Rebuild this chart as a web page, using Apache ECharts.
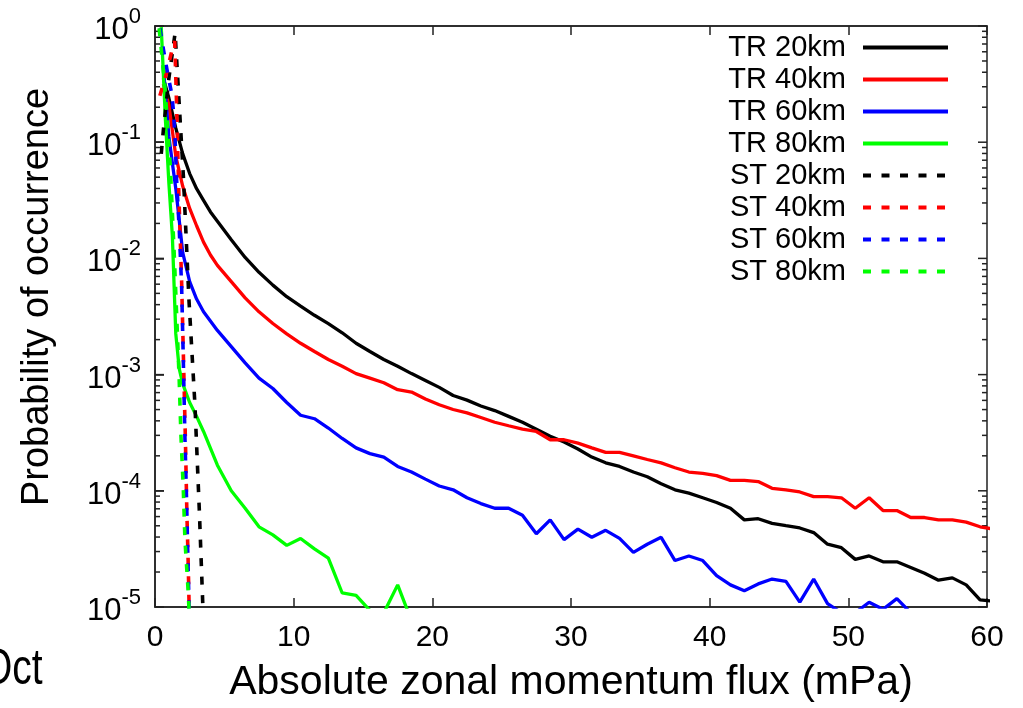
<!DOCTYPE html>
<html>
<head>
<meta charset="utf-8">
<title>Probability of occurrence</title>
<script src="https://cdn.jsdelivr.net/npm/echarts@6/dist/echarts.min.js"></script>
<style>
html, body { margin: 0; padding: 0; background: #fff; }
#chart { width: 1023px; height: 708px; }
</style>
</head>
<body>
<div id="chart"></div>
<script>
// TR (solid) curves
var tr20X = [0.6, 1.0, 1.5, 2.0, 2.5, 3.0, 3.5, 4.0, 4.5, 5.5, 6.5, 7.5, 8.5, 9.5, 10.5, 11.5, 12.5, 13.5, 14.5, 15.5, 16.5, 17.5, 18.5, 19.5, 20.5, 21.5, 22.5, 23.5, 24.5, 25.5, 26.5, 27.5, 28.5, 29.5, 30.5, 31.5, 32.5, 33.5, 34.5, 35.5, 36.5, 37.5, 38.5, 39.5, 40.5, 41.5, 42.5, 43.5, 44.5, 45.5, 46.5, 47.5, 48.5, 49.5, 50.5, 51.5, 52.5, 53.5, 54.5, 55.5, 56.5, 57.5, 58.5, 59.5, 60.5];
var tr20Y = [3.55e-1, 2.40e-1, 1.32e-1, 7.94e-2, 5.37e-2, 3.98e-2, 3.16e-2, 2.51e-2, 2.09e-2, 1.45e-2, 1.02e-2, 7.59e-3, 5.89e-3, 4.68e-3, 3.89e-3, 3.24e-3, 2.75e-3, 2.29e-3, 1.86e-3, 1.58e-3, 1.35e-3, 1.18e-3, 1.02e-3, 8.91e-4, 7.76e-4, 6.61e-4, 6.03e-4, 5.37e-4, 4.90e-4, 4.37e-4, 3.89e-4, 3.39e-4, 2.95e-4, 2.63e-4, 2.29e-4, 1.95e-4, 1.74e-4, 1.62e-4, 1.45e-4, 1.32e-4, 1.15e-4, 1.02e-4, 9.55e-5, 8.71e-5, 7.94e-5, 7.08e-5, 5.62e-5, 5.75e-5, 5.25e-5, 5.01e-5, 4.79e-5, 4.37e-5, 3.47e-5, 3.24e-5, 2.57e-5, 2.75e-5, 2.45e-5, 2.45e-5, 2.19e-5, 1.95e-5, 1.70e-5, 1.78e-5, 1.55e-5, 1.15e-5, 1.12e-5];

var tr40X = [0.6, 1.0, 1.5, 2.0, 2.5, 3.0, 3.5, 4.0, 4.5, 5.5, 6.5, 7.5, 8.5, 9.5, 10.5, 11.5, 12.5, 13.5, 14.5, 15.5, 16.5, 17.5, 18.5, 19.5, 20.5, 21.5, 22.5, 23.5, 24.5, 25.5, 26.5, 27.5, 28.5, 29.5, 30.5, 31.5, 32.5, 33.5, 34.5, 35.5, 36.5, 37.5, 38.5, 39.5, 40.5, 41.5, 42.5, 43.5, 44.5, 45.5, 46.5, 47.5, 48.5, 49.5, 50.5, 51.5, 52.5, 53.5, 54.5, 55.5, 56.5, 57.5, 58.5, 59.5, 60.5];
var tr40Y = [3.16e-1, 2.09e-1, 7.59e-2, 4.17e-2, 2.69e-2, 1.91e-2, 1.38e-2, 1.07e-2, 8.71e-3, 6.31e-3, 4.57e-3, 3.47e-3, 2.75e-3, 2.24e-3, 1.86e-3, 1.58e-3, 1.35e-3, 1.18e-3, 1.02e-3, 9.33e-4, 8.51e-4, 7.41e-4, 7.08e-4, 6.17e-4, 5.50e-4, 5.01e-4, 4.68e-4, 4.27e-4, 3.89e-4, 3.63e-4, 3.39e-4, 3.24e-4, 2.75e-4, 2.75e-4, 2.57e-4, 2.34e-4, 2.14e-4, 2.14e-4, 2.00e-4, 1.86e-4, 1.74e-4, 1.58e-4, 1.45e-4, 1.41e-4, 1.35e-4, 1.23e-4, 1.23e-4, 1.20e-4, 1.05e-4, 1.02e-4, 9.77e-5, 8.91e-5, 8.91e-5, 8.71e-5, 7.08e-5, 8.71e-5, 6.76e-5, 6.76e-5, 5.89e-5, 5.89e-5, 5.62e-5, 5.62e-5, 5.37e-5, 4.90e-5, 4.68e-5];

var tr60X = [0.6, 1.0, 1.5, 2.0, 2.5, 3.0, 3.5, 4.5, 5.5, 6.5, 7.5, 8.5, 9.5, 10.5, 11.5, 12.5, 13.5, 14.5, 15.5, 16.5, 17.5, 18.5, 19.5, 20.5, 21.5, 22.5, 23.5, 24.5, 25.5, 26.5, 27.5, 28.5, 29.5, 30.5, 31.5, 32.5, 33.5, 34.5, 35.5, 36.5, 37.5, 38.5, 39.5, 40.5, 41.5, 42.5, 43.5, 44.5, 45.5, 46.5, 47.5, 48.5, 49.5, 50.5, 51.5, 52.5, 53.5, 54.5];
var tr60Y = [4.47e-1, 1.12e-1, 3.98e-2, 1.12e-2, 6.31e-3, 4.47e-3, 3.47e-3, 2.40e-3, 1.74e-3, 1.26e-3, 9.33e-4, 7.59e-4, 5.75e-4, 4.47e-4, 4.17e-4, 3.47e-4, 2.82e-4, 2.34e-4, 2.09e-4, 1.95e-4, 1.62e-4, 1.45e-4, 1.26e-4, 1.10e-4, 1.02e-4, 8.71e-5, 7.76e-5, 7.08e-5, 7.08e-5, 6.17e-5, 4.27e-5, 5.62e-5, 3.80e-5, 4.68e-5, 3.98e-5, 4.57e-5, 3.89e-5, 2.95e-5, 3.47e-5, 3.98e-5, 2.51e-5, 2.75e-5, 2.51e-5, 1.86e-5, 1.55e-5, 1.38e-5, 1.58e-5, 1.74e-5, 1.66e-5, 1.10e-5, 1.74e-5, 1.07e-5, 8.91e-6, 8.91e-6, 1.10e-5, 9.55e-6, 1.18e-5, 8.91e-6];

var tr80X = [0.45, 0.75, 1.0, 1.25, 1.5, 1.75, 2.0, 2.5, 3.0, 3.5, 4.5, 5.5, 6.5, 7.5, 8.5, 9.5, 10.5, 11.5, 12.5, 13.5, 14.5, 15.5, 16.5, 17.5, 18.5];
var tr80Y = [9.77e-1, 1.58e-1, 4.47e-2, 1.58e-2, 2.24e-3, 1.12e-3, 8.32e-4, 5.75e-4, 4.37e-4, 3.24e-4, 1.66e-4, 1.00e-4, 7.08e-5, 4.90e-5, 4.17e-5, 3.39e-5, 3.89e-5, 3.16e-5, 2.63e-5, 1.32e-5, 1.26e-5, 9.33e-6, 8.91e-6, 1.55e-5, 7.59e-6];

// ST (dashed) curves
var st20X = [0.45, 0.6, 1.0, 1.45, 1.75, 2.05, 2.45, 2.88, 3.2, 3.5];
var st20Y = [7.94e-2, 1.26e-1, 3.55e-1, 8.71e-1, 2.09e-1, 5.01e-2, 4.37e-3, 5.50e-4, 6.61e-5, 7.08e-6];

var st40X = [0.35, 0.8, 1.2, 1.42, 1.55, 1.72, 1.92, 2.06, 2.2, 2.3, 2.38, 2.48];
var st40Y = [2.51e-1, 3.80e-1, 6.03e-1, 7.41e-1, 2.24e-1, 3.55e-2, 6.31e-3, 1.26e-3, 2.51e-4, 6.31e-5, 2.82e-5, 7.94e-6];

var st60X = [0.35, 0.72, 0.96, 1.2, 1.32, 1.44, 1.56, 1.75, 1.92, 2.04, 2.16, 2.28, 2.36, 2.45, 2.5];
var st60Y = [9.55e-1, 5.25e-1, 3.63e-1, 2.63e-1, 1.91e-1, 1.12e-1, 4.68e-2, 1.78e-2, 5.75e-3, 1.38e-3, 2.82e-4, 7.94e-5, 3.02e-5, 1.07e-5, 6.31e-6];

var st80X = [0.3, 0.7, 1.1, 1.4, 1.6, 1.75, 1.87, 2.04, 2.16, 2.4, 2.48];
var st80Y = [9.55e-1, 3.16e-1, 6.31e-2, 1.00e-2, 2.51e-3, 8.71e-4, 3.02e-4, 1.05e-4, 3.80e-5, 1.32e-5, 7.94e-6];

var seriesNames = ['TR 20km', 'TR 40km', 'TR 60km', 'TR 80km', 'ST 20km', 'ST 40km', 'ST 60km', 'ST 80km'];
var seriesColors = ['#000000', '#ff0000', '#0000ff', '#00ff00', '#000000', '#ff0000', '#0000ff', '#00ff00'];
var majorTicks = [1e-5, 1e-4, 1e-3, 1e-2, 1e-1, 1];
var minorMantissas = [2, 3, 4, 5, 6, 7, 8, 9];
var decades = [1e-5, 1e-4, 1e-3, 1e-2, 1e-1];

var FONT = '"Liberation Sans", Arial, Helvetica, sans-serif';
var AXIS_COLOR = '#222';

function pairs(xs, ys) {
	var out = [];
	for (var i = 0; i < xs.length; i++) {
		out.push([xs[i], ys[i]]);
	}
	return out;
}

var xsAll = [tr20X, tr40X, tr60X, tr80X, st20X, st40X, st60X, st80X];
var ysAll = [tr20Y, tr40Y, tr60Y, tr80Y, st20Y, st40Y, st60Y, st80Y];

var series = [];
for (var k = 0; k < seriesNames.length; k++) {
	series.push({
		name: seriesNames[k],
		type: 'line',
		data: pairs(xsAll[k], ysAll[k]),
		symbol: 'none',
		clip: true,
		itemStyle: { color: seriesColors[k] },
		lineStyle: {
			color: seriesColors[k],
			width: k < 4 ? 3.3 : 3.6,
			type: k < 4 ? 'solid' : [8, 10.5]
		}
	});
}

var myChart = echarts.init(document.getElementById('chart'));
var option = {
	animation: false,
	backgroundColor: '#ffffff',
	grid: { left: 155, right: 36, top: 26, bottom: 101, show: true, borderColor: AXIS_COLOR, borderWidth: 1.5 },
	legend: {
		data: seriesNames,
		orient: 'vertical',
		align: 'right',
		right: 73,
		top: 33,
		padding: 0,
		itemWidth: 85,
		itemHeight: 14,
		itemGap: 3,
		itemStyle: { opacity: 0 },
		lineStyle: { width: 4 },
		textStyle: { fontSize: 29, fontFamily: FONT, color: '#000', padding: [0, 12, 0, 0] }
	},
	xAxis: [{
		type: 'value',
		min: 0,
		max: 60,
		interval: 10,
		position: 'bottom',
		name: 'Absolute zonal momentum flux (mPa)',
		nameLocation: 'middle',
		nameGap: 55,
		nameTextStyle: { fontSize: 41, fontFamily: FONT, color: '#000' },
		axisLine: { lineStyle: { color: AXIS_COLOR, width: 1.5 } },
		axisTick: { inside: true, length: 9, lineStyle: { color: AXIS_COLOR, width: 1.5 } },
		axisLabel: { fontSize: 30, fontFamily: FONT, color: '#000', margin: 16 },
		splitLine: { show: false }
	}, {
		type: 'value',
		min: 0,
		max: 60,
		interval: 10,
		position: 'top',
		axisLine: { lineStyle: { color: AXIS_COLOR, width: 1.5 } },
		axisTick: { inside: true, length: 9, lineStyle: { color: AXIS_COLOR, width: 1.5 } },
		axisLabel: { show: false },
		splitLine: { show: false }
	}],
	yAxis: {
		type: 'log',
		logBase: 10,
		min: 1e-5,
		max: 1,
		position: 'left',
		axisLine: { show: true, lineStyle: { color: AXIS_COLOR, width: 1.5 } },
		axisTick: { show: true, inside: true, length: 9, lineStyle: { color: AXIS_COLOR, width: 1.5 } },
		axisLabel: {
			margin: 14,
			formatter: function (value) {
				var e = Math.round(Math.log10(value));
				return '{b|10}{s|' + e + '}';
			},
			rich: {
				b: { fontSize: 31, fontFamily: FONT, color: '#000', lineHeight: 40, verticalAlign: 'bottom' },
				s: { fontSize: 22, fontFamily: FONT, color: '#000', lineHeight: 14, verticalAlign: 'top' }
			}
		},
		splitLine: { show: false }
	},
	graphic: [{
		type: 'text',
		x: 38,
		y: 297,
		rotation: Math.PI / 2,
		style: {
			text: 'Probability of occurrence',
			fontSize: 38,
			fontFamily: FONT,
			fill: '#000',
			textAlign: 'center',
			textVerticalAlign: 'middle'
		}
	}, {
		type: 'text',
		x: -18,
		y: 670,
		scaleX: 0.78,
		style: {
			text: 'Oct',
			fontSize: 50,
			fontFamily: FONT,
			fill: '#000',
			textAlign: 'left',
			textVerticalAlign: 'middle'
		}
	}],
	series: series
};
myChart.setOption(option);

// gnuplot-style log ticks: minor on both sides, major mirrored on the right
var tickLines = [];
function addTick(v, len) {
	var pl = myChart.convertToPixel({ xAxisIndex: 0, yAxisIndex: 0 }, [0, v]);
	var pr = myChart.convertToPixel({ xAxisIndex: 0, yAxisIndex: 0 }, [60, v]);
	var st = { stroke: AXIS_COLOR, lineWidth: 1.5 };
	tickLines.push({ type: 'line', silent: true, shape: { x1: pl[0], y1: pl[1], x2: pl[0] + len, y2: pl[1] }, style: st });
	tickLines.push({ type: 'line', silent: true, shape: { x1: pr[0] - len, y1: pr[1], x2: pr[0], y2: pr[1] }, style: st });
}
decades.forEach(function (d) {
	minorMantissas.forEach(function (m) {
		addTick(m * d, 5);
	});
});
majorTicks.forEach(function (v) {
	addTick(v, 9);
});
myChart.setOption({ graphic: option.graphic.concat(tickLines) });
</script>
</body>
</html>
